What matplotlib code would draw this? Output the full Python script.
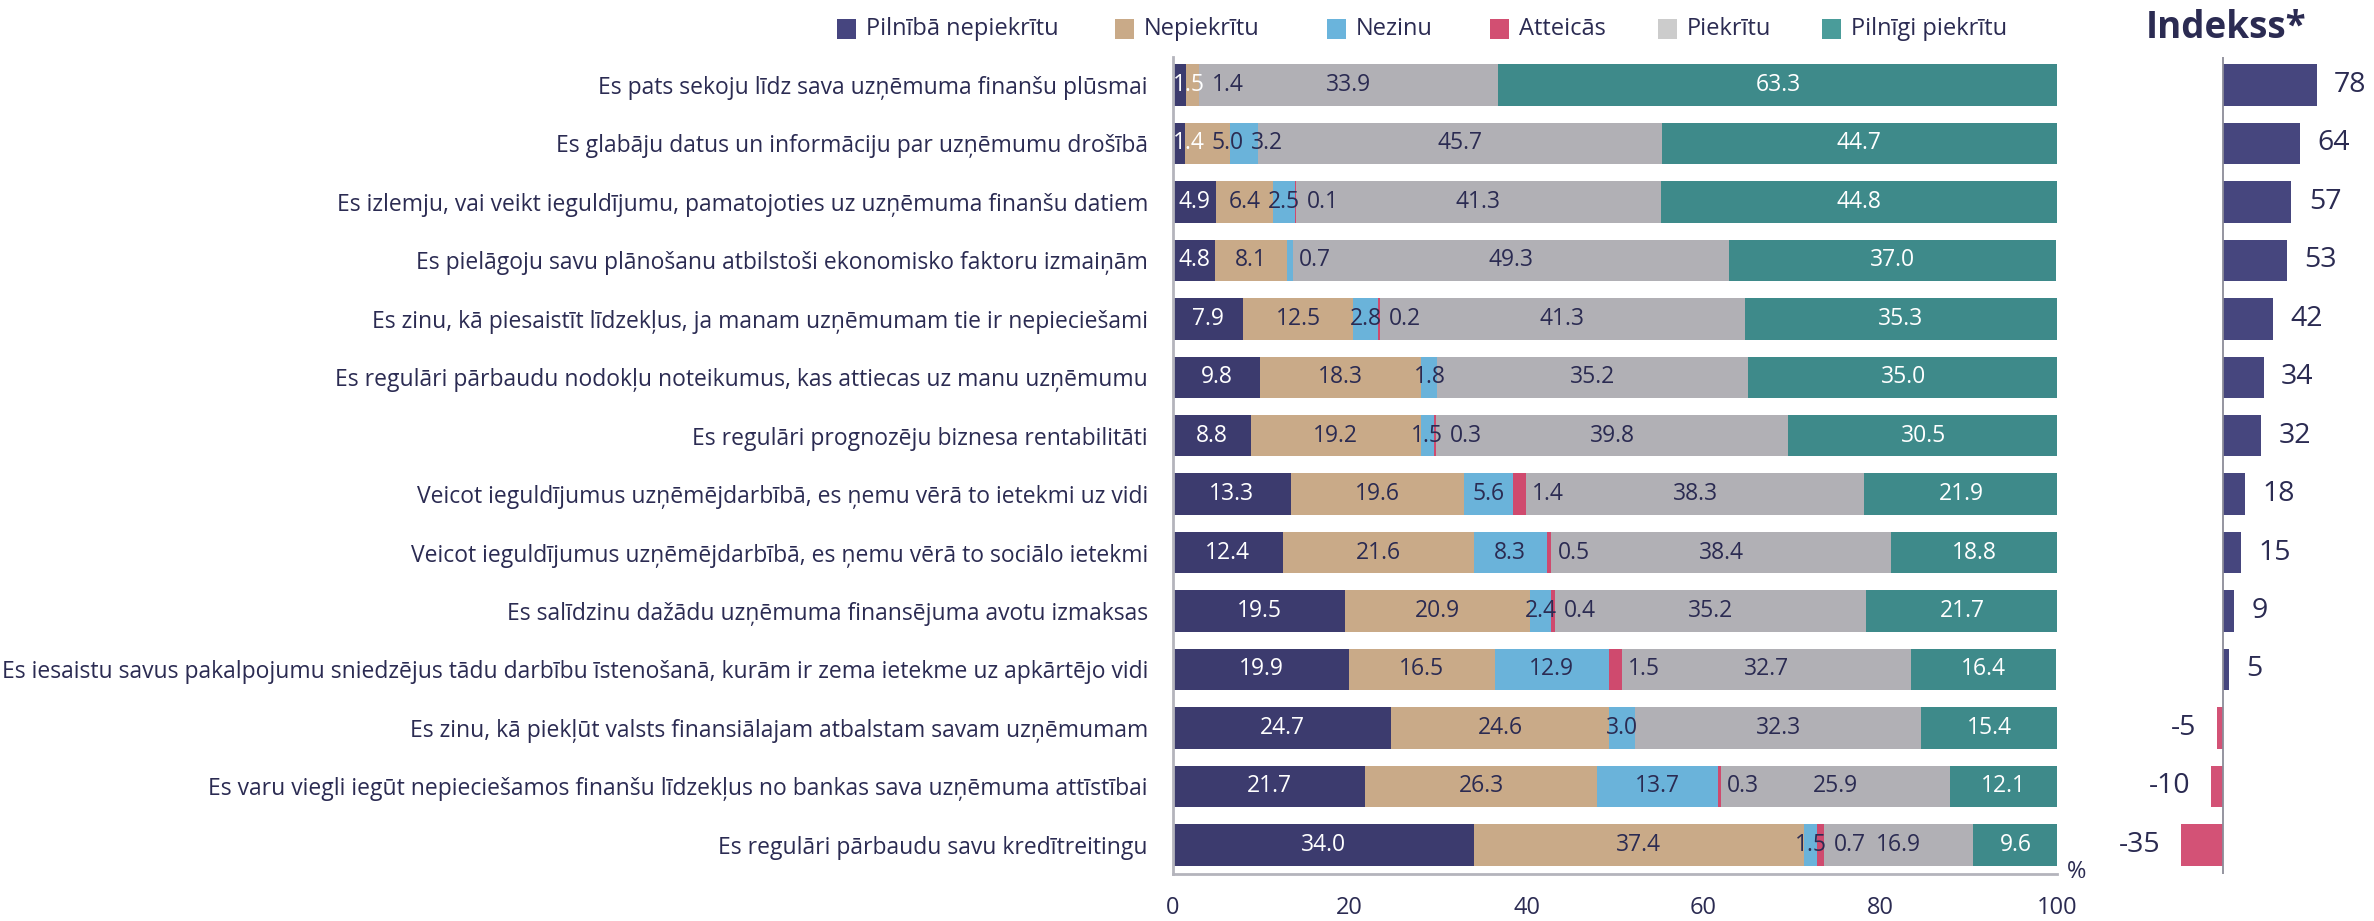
import numpy as np
import matplotlib.pyplot as plt
from matplotlib.patches import Rectangle

plt.rcParams['font.family'] = ['Open Sans', 'DejaVu Sans']

W, H = 2374, 921

statements = [
    "Es pats sekoju līdz sava uzņēmuma finanšu plūsmai",
    "Es glabāju datus un informāciju par uzņēmumu drošībā",
    "Es izlemju, vai veikt ieguldījumu, pamatojoties uz uzņēmuma finanšu datiem",
    "Es pielāgoju savu plānošanu atbilstoši ekonomisko faktoru izmaiņām",
    "Es zinu, kā piesaistīt līdzekļus, ja manam uzņēmumam tie ir nepieciešami",
    "Es regulāri pārbaudu nodokļu noteikumus, kas attiecas uz manu uzņēmumu",
    "Es regulāri prognozēju biznesa rentabilitāti",
    "Veicot ieguldījumus uzņēmējdarbībā, es ņemu vērā to ietekmi uz vidi",
    "Veicot ieguldījumus uzņēmējdarbībā, es ņemu vērā to sociālo ietekmi",
    "Es salīdzinu dažādu uzņēmuma finansējuma avotu izmaksas",
    "Es iesaistu savus pakalpojumu sniedzējus tādu darbību īstenošanā, kurām ir zema ietekme uz apkārtējo vidi",
    "Es zinu, kā piekļūt valsts finansiālajam atbalstam savam uzņēmumam",
    "Es varu viegli iegūt nepieciešamos finanšu līdzekļus no bankas sava uzņēmuma attīstībai",
    "Es regulāri pārbaudu savu kredītreitingu",
]

series_names = ["Pilnībā nepiekrītu", "Nepiekrītu", "Nezinu", "Atteicās", "Piekrītu", "Pilnīgi piekrītu"]

pilniba_nepiekritu = [1.5, 1.4, 4.9, 4.8, 7.9, 9.8, 8.8, 13.3, 12.4, 19.5, 19.9, 24.7, 21.7, 34.0]
nepiekritu = [1.4, 5.0, 6.4, 8.1, 12.5, 18.3, 19.2, 19.6, 21.6, 20.9, 16.5, 24.6, 26.3, 37.4]
nezinu = [0, 3.2, 2.5, 0.7, 2.8, 1.8, 1.5, 5.6, 8.3, 2.4, 12.9, 3.0, 13.7, 1.5]
atteicas = [0, 0, 0.1, 0, 0.2, 0, 0.3, 1.4, 0.5, 0.4, 1.5, 0, 0.3, 0.7]
piekritu = [33.9, 45.7, 41.3, 49.3, 41.3, 35.2, 39.8, 38.3, 38.4, 35.2, 32.7, 32.3, 25.9, 16.9]
pilnigi_piekritu = [63.3, 44.7, 44.8, 37.0, 35.3, 35.0, 30.5, 21.9, 18.8, 21.7, 16.4, 15.4, 12.1, 9.6]

indekss = [78, 64, 57, 53, 42, 34, 32, 18, 15, 9, 5, -5, -10, -35]

bar_colors = ['#3c3b6e', '#c9aa88', '#6ab3da', '#cf4a6e', '#b1b0b5', '#3e8a8a']
legend_colors = ['#46457f', '#c9aa88', '#6ab4dc', '#d24f72', '#cccccc', '#4a9c9a']
label_colors = ['white', '#2b2b52', '#2b2b52', '#2b2b52', '#2b2b52', 'white']
text_color = '#2b2b52'


def fx(px):
    return px / W


def fy(py):
    return 1 - py / H


fig = plt.figure(figsize=(W / 100, H / 100), dpi=100)
renderer = fig.canvas.get_renderer()

# main stacked bars
x0, x1 = 1173, 2057
y_top, y_bot = 57, 874
ax = fig.add_axes([fx(x0), fy(y_bot), (x1 - x0) / W, (y_bot - y_top) / H])

series = [pilniba_nepiekritu, nepiekritu, nezinu, atteicas, piekritu, pilnigi_piekritu]
y = np.arange(len(statements))
left = np.zeros(len(statements))
for values, color in zip(series, bar_colors):
    ax.barh(y, values, left=left, height=0.71, color=color, linewidth=0)
    left += np.array(values)

ax.set_xlim(0, 100)
ax.set_ylim(13.5, -0.48)
ax.set_yticks(y)
ax.set_yticklabels(statements, fontsize=16.5, color=text_color)
ax.set_xticks([0, 20, 40, 60, 80, 100])
ax.tick_params(axis='both', length=0)
ax.tick_params(axis='y', pad=18)
ax.tick_params(axis='x', pad=16, labelsize=17, labelcolor=text_color)
for side in ['top', 'right']:
    ax.spines[side].set_visible(False)
for side in ['left', 'bottom']:
    ax.spines[side].set_color('#b4b4bc')
    ax.spines[side].set_linewidth(2)

# value labels: tiny segments get their label just right of the segment,
# and every label is pushed right when it would overlap the previous one
px_per_unit = (x1 - x0) / 100
gap = 0.8
for row in range(len(statements)):
    start = 0.0
    prev_right = -gap
    for k, (values, lc) in enumerate(zip(series, label_colors)):
        v = values[row]
        if v > 0:
            want = start + v / 2
            if k == 3 or v < 1:
                want = start + v + 2.5
            t = ax.text(want, row, f"{v:.1f}", ha='center', va='center',
                        fontsize=16.5, color=lc)
            w = t.get_window_extent(renderer).width / px_per_unit
            xc = max(want, prev_right + gap + w / 2)
            t.set_x(xc)
            prev_right = xc + w / 2
        start += v

fig.text(fx(2077), fy(872), "%", ha='center', va='center', fontsize=17, color=text_color)

# index panel
zero_px = 2223
unit_px = 1.2
ix0, ix1 = 2100, 2374
axi = fig.add_axes([fx(ix0), fy(y_bot), (ix1 - ix0) / W, (y_bot - y_top) / H])
idx_colors = ['#46467e' if v >= 0 else '#d35276' for v in indekss]
axi.barh(y, indekss, height=0.71, color=idx_colors, linewidth=0)
axi.set_xlim(-(zero_px - ix0) / unit_px, (ix1 - zero_px) / unit_px)
axi.set_ylim(13.5, -0.48)
axi.axvline(0, color='#8c8c99', lw=1.3)
axi.axis('off')
for yi, v in zip(y, indekss):
    if v >= 0:
        axi.annotate(str(v), (v, yi), xytext=(12.5, 0), textcoords='offset points',
                     ha='left', va='center', fontsize=20.5, color=text_color)
    else:
        axi.annotate(str(v), (v, yi), xytext=(-15, 0), textcoords='offset points',
                     ha='right', va='center', fontsize=20.5, color=text_color)

fig.text(fx(2226), fy(38), "Indekss*", ha='center', va='baseline', fontsize=26.5,
         fontweight='bold', color='#2b2b52')

# legend
legend_x = [837, 1115, 1327, 1490, 1658, 1822]
for name, color, lx in zip(series_names, legend_colors, legend_x):
    fig.patches.append(Rectangle((fx(lx), fy(39)), 19 / W, 20 / H, transform=fig.transFigure,
                                 facecolor=color, edgecolor='none'))
    fig.text(fx(lx + 29), fy(29), name, ha='left', va='center', fontsize=17, color=text_color)

fig.savefig('out.png', dpi=100)
